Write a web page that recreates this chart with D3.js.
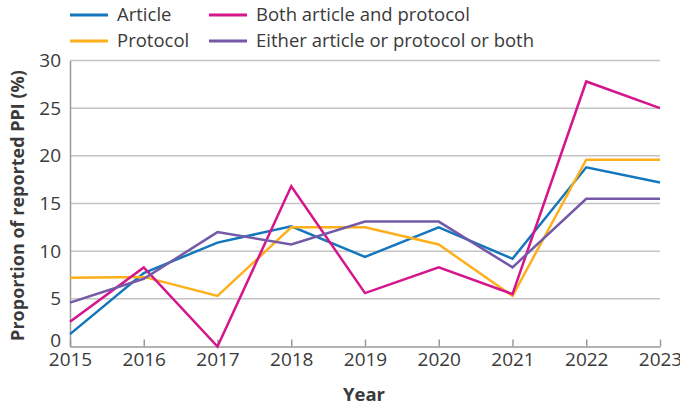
<!DOCTYPE html>
<html>
<head>
<meta charset="utf-8">
<script src="https://cdn.jsdelivr.net/npm/d3@7"></script>
<style>
  body { margin: 0; background: #fff; }
  svg { font-family: "Open Sans", sans-serif; }
</style>
</head>
<body>
<div id="chart"></div>
<script>
// data
const years = [2015, 2016, 2017, 2018, 2019, 2020, 2021, 2022, 2023];
const article = [1.3, 7.7, 10.9, 12.6, 9.4, 12.5, 9.2, 18.8, 17.2];
const protocol = [7.2, 7.3, 5.3, 12.5, 12.5, 10.7, 5.3, 19.6, 19.6];
const both = [2.6, 8.3, 0, 16.8, 5.6, 8.3, 5.5, 27.8, 25.0];
const either = [4.6, 7.1, 12.0, 10.7, 13.1, 13.1, 8.3, 15.5, 15.5];
const yTicks = [0, 5, 10, 15, 20, 25, 30];

const series = [
    { name: "Article", values: article, color: "#1477bd" },
    { name: "Protocol", values: protocol, color: "#fdb01b" },
    { name: "Both article and protocol", values: both, color: "#d5158c" },
    { name: "Either article or protocol or both", values: either, color: "#7459a8" }
];

const width = 680;
const height = 407;
const margin = { top: 61, right: 20, bottom: 61, left: 70 };

let svg = d3.select("#chart")
    .append("svg")
    .attr("width", width)
    .attr("height", height);

let x = d3.scaleLinear()
    .domain([2015, 2023])
    .range([margin.left, width - margin.right]);

let y = d3.scaleLinear()
    .domain([0, 30])
    .range([height - margin.bottom + 0.5, margin.top - 0.5]);

// gridlines
svg.append("g")
    .selectAll("line")
    .data(yTicks.filter(d => d > 0))
    .enter()
    .append("line")
    .attr("x1", x(2015))
    .attr("x2", x(2023))
    .attr("y1", d => y(d))
    .attr("y2", d => y(d))
    .attr("stroke", "#c4c4c4")
    .attr("stroke-width", 1.5);

// y axis
let yAxis = svg.append("g")
    .attr("transform", "translate(" + x(2015) + ",0)")
    .call(d3.axisLeft(y).tickValues(yTicks).tickSize(0).tickPadding(9));
yAxis.select(".domain").attr("stroke", "#9a9a9a").attr("stroke-width", 1.5);
yAxis.selectAll("text")
    .attr("font-size", "19px")
    .attr("fill", "#3a3a3a")
    .attr("font-family", "Open Sans")
    .attr("y", d => d === 0 ? -6 : 0);

// x axis
let xAxis = svg.append("g")
    .attr("transform", "translate(0," + y(0) + ")")
    .call(d3.axisBottom(x).tickValues(years).tickFormat(d3.format("d")).tickSize(7).tickSizeOuter(0).tickPadding(4));
xAxis.select(".domain").attr("stroke", "#9a9a9a").attr("stroke-width", 1.5);
xAxis.selectAll(".tick line").attr("stroke", "#9a9a9a").attr("stroke-width", 1.5).attr("transform", "translate(0,-7)");
xAxis.selectAll("text")
    .attr("font-size", "19px")
    .attr("fill", "#3a3a3a")
    .attr("font-family", "Open Sans")
    .attr("dy", "0.45em");

// axis titles
svg.append("text")
    .attr("x", (x(2015) + x(2023)) / 2 - 1)
    .attr("y", 401)
    .attr("text-anchor", "middle")
    .attr("font-size", "18.5px")
    .attr("font-weight", "bold")
    .attr("fill", "#3a3a3a")
    .text("Year");

svg.append("text")
    .attr("transform", "translate(24," + ((y(0) + y(30)) / 2 + 2) + ") rotate(-90)")
    .attr("text-anchor", "middle")
    .attr("font-size", "18px")
    .attr("font-weight", "bold")
    .attr("fill", "#3a3a3a")
    .text("Proportion of reported PPI (%)");

// lines
let line = d3.line()
    .x((d, i) => x(years[i]))
    .y(d => y(d));

svg.append("g")
    .selectAll("path")
    .data(series)
    .enter()
    .append("path")
    .attr("d", d => line(d.values))
    .attr("fill", "none")
    .attr("stroke", d => d.color)
    .attr("stroke-width", 2.5)
    .attr("stroke-linejoin", "miter");

// legend
const legendPos = [[70, 15], [70, 41], [209, 15], [209, 41]];
let legend = svg.append("g")
    .selectAll("g")
    .data(series)
    .enter()
    .append("g")
    .attr("transform", (d, i) => "translate(" + legendPos[i][0] + "," + legendPos[i][1] + ")");
legend.append("line")
    .attr("x1", 0)
    .attr("x2", 38)
    .attr("stroke", d => d.color)
    .attr("stroke-width", 3);
legend.append("text")
    .attr("x", 47)
    .attr("dy", "0.35em")
    .attr("font-size", "18.5px")
    .attr("fill", "#3a3a3a")
    .text(d => d.name);
</script>
</body>
</html>
